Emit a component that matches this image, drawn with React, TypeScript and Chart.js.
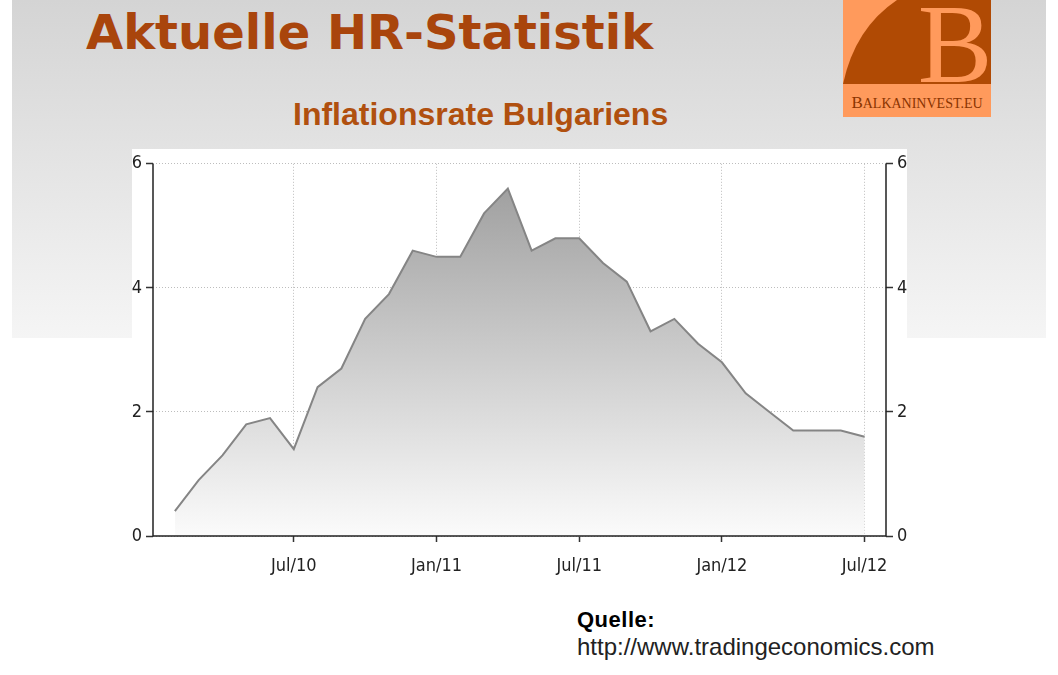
import React, { useEffect, useRef } from "react";
import { Chart, registerables } from "chart.js";

Chart.register(...registerables);

const months: string[] = [
  "Feb/10", "Mar/10", "Apr/10", "May/10", "Jun/10", "Jul/10", "Aug/10", "Sep/10", "Oct/10", "Nov/10", "Dec/10",
  "Jan/11", "Feb/11", "Mar/11", "Apr/11", "May/11", "Jun/11", "Jul/11", "Aug/11", "Sep/11", "Oct/11", "Nov/11", "Dec/11",
  "Jan/12", "Feb/12", "Mar/12", "Apr/12", "May/12", "Jun/12", "Jul/12",
];

const inflation: number[] = [
  0.4, 0.9, 1.3, 1.8, 1.9, 1.4, 2.4, 2.7, 3.5, 3.9, 4.6,
  4.5, 4.5, 5.2, 5.6, 4.6, 4.8, 4.8, 4.4, 4.1, 3.3, 3.5, 3.1,
  2.8, 2.3, 2.0, 1.7, 1.7, 1.7, 1.6,
];

const xTickLabels: string[] = ["Jul/10", "Jan/11", "Jul/11", "Jan/12", "Jul/12"];
const yTicks: number[] = [0, 2, 4, 6];

const tickFont = { family: "'DejaVu Sans Condensed', 'DejaVu Sans'", size: 18 };

const axisBorders = {
  id: "axisBorders",
  afterDatasetsDraw(chart: any) {
    const { ctx, chartArea: ca } = chart;
    ctx.save();
    ctx.strokeStyle = "#222";
    ctx.lineWidth = 1.5;
    ctx.setLineDash([]);
    ctx.beginPath();
    ctx.moveTo(ca.left, ca.top);
    ctx.lineTo(ca.left, ca.bottom);
    ctx.lineTo(ca.right, ca.bottom);
    ctx.lineTo(ca.right, ca.top);
    ctx.stroke();
    ctx.restore();
  },
};

function ChartCanvas() {
  const ref = useRef<HTMLCanvasElement | null>(null);
  useEffect(() => {
    if (!ref.current) return;
    const tickIdx = xTickLabels.map((l) => months.indexOf(l));
    const yAxis = (pos: "left" | "right", onArea: boolean) => ({
      type: "linear" as const,
      position: pos,
      min: 0,
      max: 6,
      afterBuildTicks: (scale: any) => {
        scale.ticks = yTicks.map((v) => ({ value: v }));
      },
      afterFit: (scale: any) => {
        scale.width = 21;
      },
      ticks: { color: "#222", font: tickFont, padding: 4, callback: (v: any) => String(v) },
      grid: {
        drawOnChartArea: onArea,
        color: "#bdbdbd",
        tickColor: "#333",
        tickLength: 7,
        tickWidth: 1.5,
        tickBorderDash: [1, 0],
      },
      border: { display: false, dash: [1, 2] },
    });
    const chart = new Chart(ref.current, {
      type: "line",
      data: {
        datasets: [
          {
            data: inflation.map((v, i) => ({ x: i, y: v })),
            borderColor: "#858585",
            borderWidth: 2,
            pointRadius: 0,
            tension: 0,
            fill: "origin",
            backgroundColor: (ctx: any) => {
              const ca = ctx.chart.chartArea;
              if (!ca) return "#cccccc";
              const g = ctx.chart.ctx.createLinearGradient(0, ca.top, 0, ca.bottom);
              g.addColorStop(0, "#9a9a9a");
              g.addColorStop(1, "#fbfbfb");
              return g;
            },
          },
        ],
      },
      options: {
        animation: false,
        responsive: false,
        layout: { padding: { top: 13, left: 0, right: 0, bottom: 0 } },
        plugins: { legend: { display: false }, tooltip: { enabled: false }, title: { display: false } },
        scales: {
          x: {
            type: "linear",
            min: -0.92,
            max: 29.9,
            afterBuildTicks: (scale: any) => {
              scale.ticks = tickIdx.map((v) => ({ value: v }));
            },
            afterFit: (scale: any) => {
              scale.height = 54;
            },
            ticks: {
              color: "#222",
              font: tickFont,
              padding: 14,
              maxRotation: 0,
              autoSkip: false,
              callback: (v: any) => months[v as number],
            },
            grid: {
              color: "#bdbdbd",
              tickColor: "#333",
              tickLength: 6,
              tickWidth: 1.5,
              tickBorderDash: [1, 0],
            },
            border: { display: false, dash: [1, 2] },
          },
          y: yAxis("left", true),
          y2: yAxis("right", false),
        },
      },
      plugins: [axisBorders],
    } as any);
    return () => chart.destroy();
  }, []);
  return (
    <canvas
      ref={ref}
      width={775}
      height={441}
      style={{ position: "absolute", left: 132, top: 149, width: 775, height: 441, background: "#fff" }}
    />
  );
}

function Logo() {
  return (
    <svg
      width={148}
      height={117}
      viewBox="0 0 148 117"
      style={{ position: "absolute", left: 843, top: 0 }}
    >
      <rect x={0} y={0} width={148} height={117} fill="#ff9a5c" />
      <path d="M0 84 Q12 28 54 0 L148 0 L148 84 Z" fill="#b04a04" />
      <text
        x={112}
        y={82}
        textAnchor="middle"
        fill="#ff9a5c"
        style={{ font: "112px 'Liberation Serif', 'DejaVu Serif', serif" }}
      >
        B
      </text>
      <text
        x={74}
        y={108}
        textAnchor="middle"
        fill="#8a3400"
        style={{ font: "14px 'Liberation Serif', 'DejaVu Serif', serif" }}
      >
        <tspan style={{ fontSize: "17px" }}>B</tspan>ALKANINVEST.EU
      </text>
    </svg>
  );
}

export default function App() {
  return (
    <div
      style={{
        position: "absolute",
        left: 0,
        top: 0,
        width: 1058,
        height: 675,
        background: "#ffffff",
        overflow: "hidden",
      }}
    >
      <div
        style={{
          position: "absolute",
          left: 12,
          top: 0,
          width: 1034,
          height: 338,
          background: "linear-gradient(#d4d4d4, #f5f5f5)",
        }}
      />
      <div
        style={{
          position: "absolute",
          left: 86,
          top: 4,
          font: "bold 48px 'DejaVu Sans', sans-serif",
          color: "#a9450c",
          whiteSpace: "nowrap",
          lineHeight: "56px",
        }}
      >
        Aktuelle HR-Statistik
      </div>
      <div
        style={{
          position: "absolute",
          left: 293,
          top: 94,
          font: "bold 32px 'Liberation Sans', Arial, sans-serif",
          color: "#b0500f",
          whiteSpace: "nowrap",
          lineHeight: "40px",
        }}
      >
        Inflationsrate Bulgariens
      </div>
      <Logo />
      <ChartCanvas />
      <div
        style={{
          position: "absolute",
          left: 577,
          top: 606,
          font: "bold 22px 'Liberation Sans', Arial, sans-serif",
          color: "#000",
          whiteSpace: "nowrap",
          lineHeight: "28px",
          letterSpacing: "0.5px",
        }}
      >
        Quelle:
      </div>
      <div
        style={{
          position: "absolute",
          left: 577,
          top: 633,
          font: "24px 'Liberation Sans', Arial, sans-serif",
          color: "#222",
          whiteSpace: "nowrap",
          lineHeight: "28px",
        }}
      >
        http://www.tradingeconomics.com
      </div>
    </div>
  );
}
